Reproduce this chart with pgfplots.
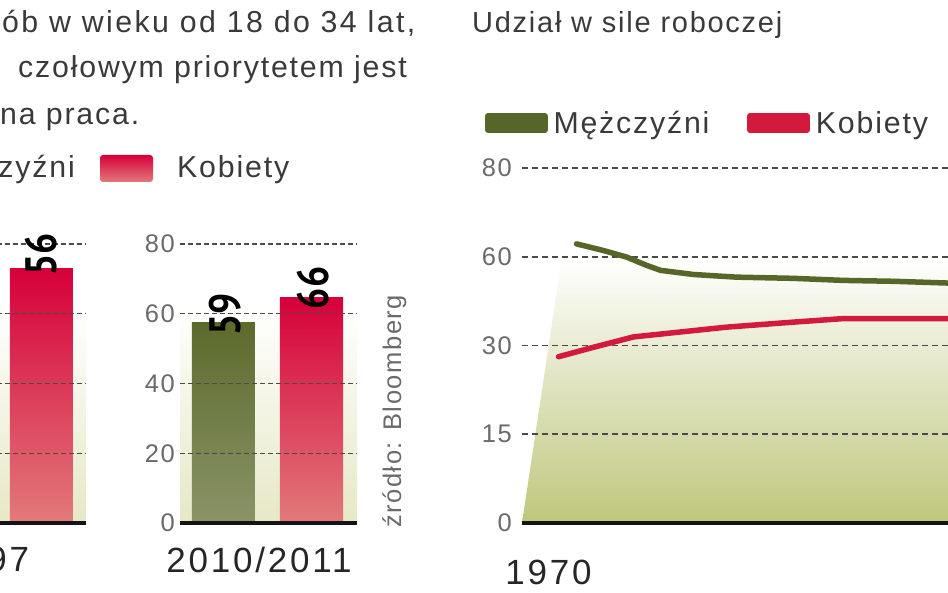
\documentclass[border=0pt]{standalone}
\usepackage{pgfplots}
\pgfplotsset{compat=1.18}
\usepackage{fontspec}
\setmainfont{Liberation Sans}[LetterSpace=6]
\newfontfamily\ptsans{PT Sans}
\newfontfamily\numfont{Liberation Sans}[LetterSpace=8]
\definecolor{txt}{HTML}{3A3A3A}
\definecolor{ticklab}{HTML}{6A6A6A}
\definecolor{menline}{HTML}{566628}
\definecolor{womline}{HTML}{D3193E}
\definecolor{menTop}{HTML}{5C6A2C}
\definecolor{menBot}{HTML}{8A9468}
\definecolor{womTop}{HTML}{D6003A}
\definecolor{womBot}{HTML}{E27A7A}
\definecolor{panelbg}{HTML}{E6E8C6}
\definecolor{areagreen}{HTML}{BFC77C}
\definecolor{gridc}{HTML}{4A4A4A}

\pgfplotsset{
  barax/.style={
    scale only axis, width=177pt, height=279pt,
    ymin=0, ymax=80, axis on top, clip=false,
    axis x line*=bottom, axis y line*=left,
    y axis line style={draw=none},
    x axis line style={line width=3.5pt, black!92, -},
    ytick={0,20,40,60,80}, ymajorgrids,
    grid style={gridc, line width=1.4pt, dash pattern=on 4.5pt off 3.5pt},
    major tick length=0pt,
    yticklabel style={font=\fontsize{25.5}{26}\selectfont, text=ticklab, anchor=east, inner sep=0pt, xshift=-5pt},
    xticklabel style={font=\fontsize{35}{35}\numfont, text=black!85, anchor=north, inner sep=0pt, yshift=-24pt},
    /pgf/number format/assume math mode=true,
    bar width=0.716,
    point meta=explicit symbolic,
    nodes near coords,
    nodes near coords style={rotate=90, anchor=west, inner sep=0pt, xscale=0.85,
      font=\fontsize{44}{44}\ptsans\bfseries, text=black},
  },
  lineax/.style={
    at={(522pt,70pt)}, anchor=south west, scale only axis,
    width=478pt, height=355pt,
    xmin=1967.35, xmax=2015.15, ymin=0, ymax=4,
    % y positions: 0,15,30,60,80 are equally spaced on this chart
    y filter/.expression={(y<=30)*(y/15)+(y>30)*(y<=60)*(2+(y-30)/30)+(y>60)*(3+(y-60)/20)},
    major tick length=0pt,
  },
}

\begin{document}
\begin{tikzpicture}
\begin{scope}
\clip (0pt,0pt) rectangle (948pt,593pt);
\begin{pgfinterruptboundingbox}

% ---- left header text (cropped) ----
\begin{scope}[every node/.style={inner sep=0pt, text=txt, font=\fontsize{30.3}{36}\selectfont}]
\node[anchor=base west, font=\fontsize{30.3}{36}\addfontfeatures{LetterSpace=8}] at (2pt,560pt) {ób w wieku od 18 do 34 lat,};
\node[anchor=base west] at (18pt,515pt) {czołowym priorytetem jest};
\node[anchor=base west] at (0pt,468pt) {na praca.};
\node[anchor=base east] at (75pt,415pt) {Mężczyźni};
\node[anchor=base west] at (177pt,415pt) {Kobiety};
\node[anchor=base west, font=\fontsize{29}{34}\selectfont] at (472pt,560pt) {Udział w sile roboczej};
\end{scope}
\shade[rounded corners=3pt, top color=womTop, bottom color=womBot] (100pt,411pt) rectangle (153pt,438pt);

% ---- source ----
\node[rotate=90, anchor=base west, inner sep=0pt, text=ticklab, font=\fontsize{25.5}{26}\selectfont] at (401pt,65pt) {źródło: Bloomberg};

% ---- 1997 group (cropped) ----
\begin{axis}[barax, at={(-91pt,70pt)}, anchor=south west,
  xmin=-0.506, xmax=1.506, xtick={0.37}, xticklabels={1997}]
\addplot[draw=none, top color=white, bottom color=panelbg, forget plot, nodes near coords=\empty]
  coordinates {(-0.506,62) (1.506,62)} \closedcycle;
\addplot[ybar, bar shift=0pt, draw=none, top color=womTop, bottom color=womBot,
  nodes near coords style={shift={(-9.5pt,0pt)}}]
  coordinates {(1,73.1) [56]};
\end{axis}

% ---- 2010/2011 group ----
\begin{axis}[barax, at={(180pt,70pt)}, anchor=south west,
  xmin=-0.494, xmax=1.517, xtick={0.403}, xticklabels={2010/2011}]
\addplot[draw=none, top color=white, bottom color=panelbg, forget plot, nodes near coords=\empty]
  coordinates {(-0.494,62) (1.517,62)} \closedcycle;
\addplot[ybar, bar shift=0pt, draw=none, top color=menTop, bottom color=menBot,
  nodes near coords style={shift={(-16pt,-2pt)}}]
  coordinates {(0,57.6) [59]};
\addplot[ybar, bar shift=0pt, draw=none, top color=womTop, bottom color=womBot,
  nodes near coords style={shift={(-14.5pt,-2pt)}}]
  coordinates {(1,64.8) [66]};
\end{axis}

% ---- labour force share: background area + grid ----
\begin{axis}[lineax, axis on top,
  axis line style={draw=none}, ytick={0,1,2,3,4}, yticklabels={,,,,}, xtick=\empty,
  ymajorgrids,
  grid style={gridc, line width=1.6pt, dash pattern=on 5.5pt off 4.5pt}]
\addplot[draw=none, top color=white, bottom color=areagreen]
  coordinates {(1967.35,0) (1971.35,60) (2015.15,60) (2015.15,0)} -- cycle;
\end{axis}

% ---- labour force share: lines ----
\begin{axis}[lineax,
  ytick={0,1,2,3,4}, yticklabels={0,15,30,60,80},
  xtick={1970}, xticklabels={1970},
  axis x line*=bottom, axis y line*=left,
  y axis line style={draw=none},
  x axis line style={line width=3.5pt, black!92, -},
  yticklabel style={font=\fontsize{25.5}{26}\selectfont, text=ticklab, anchor=east, inner sep=0pt, xshift=-10pt},
  xticklabel style={font=\fontsize{35}{35}\numfont, text=black!85, anchor=north, inner sep=0pt, yshift=-37pt},
  legend columns=2,
  legend style={draw=none, fill=none, at={(-0.0774,1.1268)}, anchor=west,
    font=\fontsize{30.3}{36}\selectfont, text=txt, inner sep=0pt, outer sep=0pt,
    nodes={inner sep=0pt},
    /tikz/every odd column/.append style={column sep=6pt},
    /tikz/every even column/.append style={column sep=38pt}},
  legend image code/.code={\path (0pt,-7pt) rectangle (57pt,7pt);
    \fill[#1, draw=none, rounded corners=6.5pt] (0pt,-6.5pt) rectangle (57pt,6.5pt);},
]
\addplot[menline, line width=5.5pt, line cap=round, line join=round]
  coordinates {(1972.8,62.9) (1975.5,61.4) (1977.8,59.9) (1979.8,57.1) (1981.2,55.4)
    (1984.5,54.0) (1988.8,53.1) (1994.5,52.7) (1999.5,52.0) (2004.5,51.7) (2010,51.1)};
\addlegendentry{Mężczyźni}
\addplot[womline, line width=5.5pt, line cap=round, line join=round]
  coordinates {(1971,28.1) (1974.5,29.7) (1978.5,32.9) (1987.8,36.2) (1994.5,37.9)
    (1999.5,39.1) (2010,39.1)};
\addlegendentry{Kobiety}
\end{axis}

\end{pgfinterruptboundingbox}
\end{scope}
\end{tikzpicture}
\end{document}
